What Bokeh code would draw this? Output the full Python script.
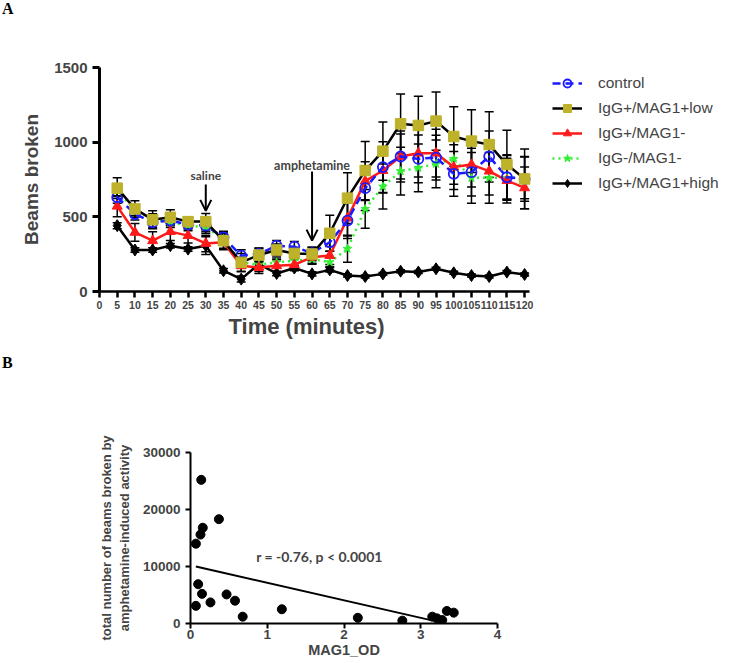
from bokeh.plotting import figure
from bokeh.models import (ColumnDataSource, Whisker, TeeHead, Arrow, OpenHead, Label,
                          Legend, LegendItem, FixedTicker, Range1d, Title, Div)
from bokeh.embed import file_html
from bokeh.resources import INLINE

# ---------------- data: panel A ----------------
time_min = [5, 10, 15, 20, 25, 30, 35, 40, 45, 50, 55, 60, 65, 70, 75, 80, 85, 90, 95, 100, 105, 110, 115, 120]
control = [631, 519, 463, 475, 448, 441, 363, 240, 251, 307, 300, 257, 330, 475, 692, 833, 904, 888, 897, 788, 799, 904, 765, 754]
control_err = [40, 40, 35, 35, 30, 40, 40, 40, 40, 35, 35, 40, 60, 120, 150, 170, 170, 160, 150, 150, 160, 170, 150, 150]
igg_low = [692, 553, 481, 497, 468, 468, 340, 195, 244, 278, 255, 251, 390, 625, 810, 940, 1123, 1112, 1141, 1038, 1007, 984, 850, 754]
igg_low_err = [70, 55, 60, 50, 30, 55, 50, 60, 45, 40, 40, 45, 120, 170, 195, 195, 200, 195, 195, 200, 210, 220, 230, 200]
igg_neg = [571, 396, 340, 401, 374, 322, 329, 172, 161, 172, 179, 230, 241, 491, 739, 810, 904, 926, 926, 833, 850, 806, 743, 694]
igg_neg_err = [70, 60, 60, 60, 50, 55, 50, 40, 40, 40, 40, 40, 60, 120, 130, 150, 150, 160, 160, 150, 150, 160, 150, 140]
neg_neg = [676, 542, 486, 463, 441, 430, 352, 195, 179, 195, 206, 217, 196, 286, 553, 703, 806, 828, 855, 888, 761, 761, 761, 761]
neg_neg_err = [40, 35, 35, 35, 35, 40, 40, 35, 30, 30, 30, 35, 30, 90, 130, 150, 160, 160, 160, 170, 170, 170, 150, 140]
igg_high = [441, 278, 278, 307, 284, 307, 139, 83, 184, 121, 157, 118, 145, 107, 100, 118, 136, 130, 152, 125, 107, 100, 130, 114]
igg_high_err = [20, 15, 15, 15, 15, 60, 15, 20, 50, 15, 15, 15, 15, 10, 10, 10, 10, 10, 10, 10, 10, 10, 10, 10]
x_ticks = list(range(0, 125, 5))
y_ticks = [0, 500, 1000, 1500]

# ---------------- data: panel B ----------------
mag1_od = [0.14, 0.37, 0.16, 0.13, 0.07, 0.10, 0.15, 0.07, 0.26, 0.47, 0.58, 0.68, 1.19, 2.18, 2.76, 3.15, 3.21, 3.28, 3.34, 3.43]
beams_total = [25200, 18300, 16800, 15600, 14000, 6900, 5200, 3100, 3700, 5100, 4000, 1200, 2500, 1000, 500, 1200, 900, 600, 2200, 1900]
fit_x = [0.07, 3.13]
fit_y = [10000, 600]
b_x_ticks = [0, 1, 2, 3, 4]
b_y_ticks = [0, 10000, 20000, 30000]

SANS = "Liberation Sans"
LETTER_STYLE = {"font-family": "Liberation Serif", "font-weight": "bold", "font-size": "16px",
                "line-height": "18px", "padding-left": "2px", "color": "black"}

div_a = Div(text="A", width=748, height=20, margin=0, styles=dict(LETTER_STYLE))
div_b = Div(text="B", width=748, height=28, margin=0,
            styles=dict(LETTER_STYLE, **{"padding-top": "8px"}))

# ---------------- panel A ----------------
# frame is widened to the right so that the legend sits inside it; the axis is bounded
p1 = figure(width=748, height=326, x_range=Range1d(0, 183.2), y_range=Range1d(0, 1500),
            output_backend="svg", toolbar_location=None,
            min_border_left=99, min_border_right=0, min_border_top=47, min_border_bottom=55)
p1.outline_line_color = None
p1.grid.visible = False
p1.background_fill_color = None

p1.xaxis.ticker = FixedTicker(ticks=x_ticks)
p1.yaxis.ticker = FixedTicker(ticks=y_ticks)
p1.xaxis.bounds = (0, 121.5)
for ax in (p1.xaxis[0], p1.yaxis[0]):
    ax.minor_tick_line_color = None
    ax.major_tick_in = 0
    ax.major_label_text_font = SANS
    ax.major_label_text_font_style = "bold"
    ax.axis_label_text_font = SANS
    ax.axis_label_text_font_style = "bold"
    ax.axis_line_color = "black"
    ax.major_tick_line_color = "black"
p1.yaxis.axis_line_width = 3
p1.yaxis.major_tick_line_width = 3
p1.yaxis.major_tick_out = 7
p1.yaxis.major_label_text_font_size = "15px"
p1.yaxis.axis_label = "Beams broken"
p1.yaxis.axis_label_text_font_size = "19px"
p1.yaxis.axis_label_standoff = 9
p1.xaxis.axis_line_width = 2.5
p1.xaxis.major_tick_line_width = 2.5
p1.xaxis.major_tick_out = 6
p1.xaxis.major_label_text_font_size = "10.5px"
p1.xaxis.major_label_standoff = 3
p1.add_layout(Title(text="Time (minutes)", align="left", offset=129, standoff=1,
                    text_font=SANS, text_font_style="bold", text_font_size="22px"), "below")

series = [
    ("control", control, control_err, "#1a1aff", "8 5", "circle_dot", 10, None),
    ("IgG+/MAG1+low", igg_low, igg_low_err, "black", "solid", "square", 10.5, "#bdb22a"),
    ("IgG+/MAG1-", igg_neg, igg_neg_err, "#ff1a1a", "solid", "triangle", 10, "#ff1a1a"),
    ("IgG-/MAG1-", neg_neg, neg_neg_err, "#33ee33", "2 4", "star", 9, "#33ee33"),
    ("IgG+/MAG1+high", igg_high, igg_high_err, "black", "solid", "diamond", 12, "black"),
]

items = []
draw_order = [4, 3, 2, 0, 1]
rend = {}
for i in draw_order:
    name, vals, err, col, dash, marker, size, fill = series[i]
    src = ColumnDataSource(dict(x=time_min, y=vals,
                                upper=[v + e for v, e in zip(vals, err)],
                                lower=[v - e for v, e in zip(vals, err)]))
    w = Whisker(base="x", upper="upper", lower="lower", source=src,
                line_color="black", line_width=1.5,
                upper_head=TeeHead(size=9, line_color="black", line_width=1.5),
                lower_head=TeeHead(size=9, line_color="black", line_width=1.5))
    p1.add_layout(w)
for i in draw_order:
    name, vals, err, col, dash, marker, size, fill = series[i]
    src = ColumnDataSource(dict(x=time_min, y=vals))
    ln = p1.line("x", "y", source=src, line_color=col, line_width=2.5, line_dash=dash)
    mcol = col if i != 1 else "#bdb22a"
    if i == 0:
        mk = p1.scatter("x", "y", source=src, marker=marker, size=size, fill_color=None,
                        line_color=col, line_width=1.8)
    else:
        mk = p1.scatter("x", "y", source=src, marker=marker, size=size, fill_color=fill,
                        line_color=mcol, line_width=1)
    rend[i] = (ln, mk)

for i in range(5):
    items.append(LegendItem(label=series[i][0], renderers=list(rend[i])))

legend = Legend(items=items, location=(453, 98), glyph_width=30, glyph_height=20, spacing=5,
                padding=0, margin=0, label_standoff=16, border_line_color=None,
                background_fill_alpha=0, label_text_font=SANS, label_text_font_size="15.5px",
                label_height=20)
p1.add_layout(legend)

p1.add_layout(Arrow(x_start=30, y_start=716, x_end=30, y_end=540,
                    line_width=2, line_color="black",
                    end=OpenHead(size=11, line_width=2, line_color="black")))
p1.add_layout(Arrow(x_start=60, y_start=803, x_end=60, y_end=341,
                    line_width=2, line_color="black",
                    end=OpenHead(size=11, line_width=2, line_color="black")))
p1.add_layout(Label(x=30, y=777, text="saline", text_align="center", text_baseline="middle",
                    text_font="Lato", text_font_style="bold", text_font_size="12px"))
p1.add_layout(Label(x=60, y=844, text="amphetamine", text_align="center", text_baseline="middle",
                    text_font="Lato", text_font_style="bold", text_font_size="12.5px"))

# ---------------- panel B ----------------
p2 = figure(width=748, height=289, x_range=Range1d(0, 4), y_range=Range1d(0, 30000),
            output_backend="svg", toolbar_location=None,
            min_border_left=190, min_border_right=251, min_border_top=78, min_border_bottom=40)
p2.outline_line_color = None
p2.grid.visible = False
p2.background_fill_color = None
p2.xaxis.ticker = FixedTicker(ticks=b_x_ticks)
p2.yaxis.ticker = FixedTicker(ticks=b_y_ticks)
for ax in (p2.xaxis[0], p2.yaxis[0]):
    ax.minor_tick_line_color = None
    ax.major_tick_in = 0
    ax.major_tick_out = 5
    ax.axis_line_width = 2
    ax.major_tick_line_width = 2
    ax.major_label_text_font = SANS
    ax.major_label_text_font_style = "bold"
    ax.major_label_text_font_size = "13.5px"
    ax.axis_label_text_font = SANS
    ax.axis_label_text_font_style = "bold"
    ax.axis_label_text_font_size = "14.5px"
p2.yaxis.axis_label = "total number of beams broken by\namphetamine-induced activity"
p2.yaxis.axis_label_text_font_size = "13px"
p2.yaxis.axis_label_standoff = 8
p2.xaxis.axis_label = "MAG1_OD"
p2.xaxis.axis_label_standoff = 0
p2.xaxis.major_label_standoff = 1

p2.line(fit_x, fit_y, line_color="black", line_width=1.8)
p2.scatter(mag1_od, beams_total, size=9, marker="circle", fill_color="black", line_color="black")
p2.add_layout(Label(x=1.68, y=11700, text="r = -0.76, p < 0.0001", text_align="center",
                    text_baseline="middle", text_font="Lato", text_font_style="bold",
                    text_font_size="14px"))

open("out.html", "w").write(file_html((div_a, p1, div_b, p2), INLINE))
